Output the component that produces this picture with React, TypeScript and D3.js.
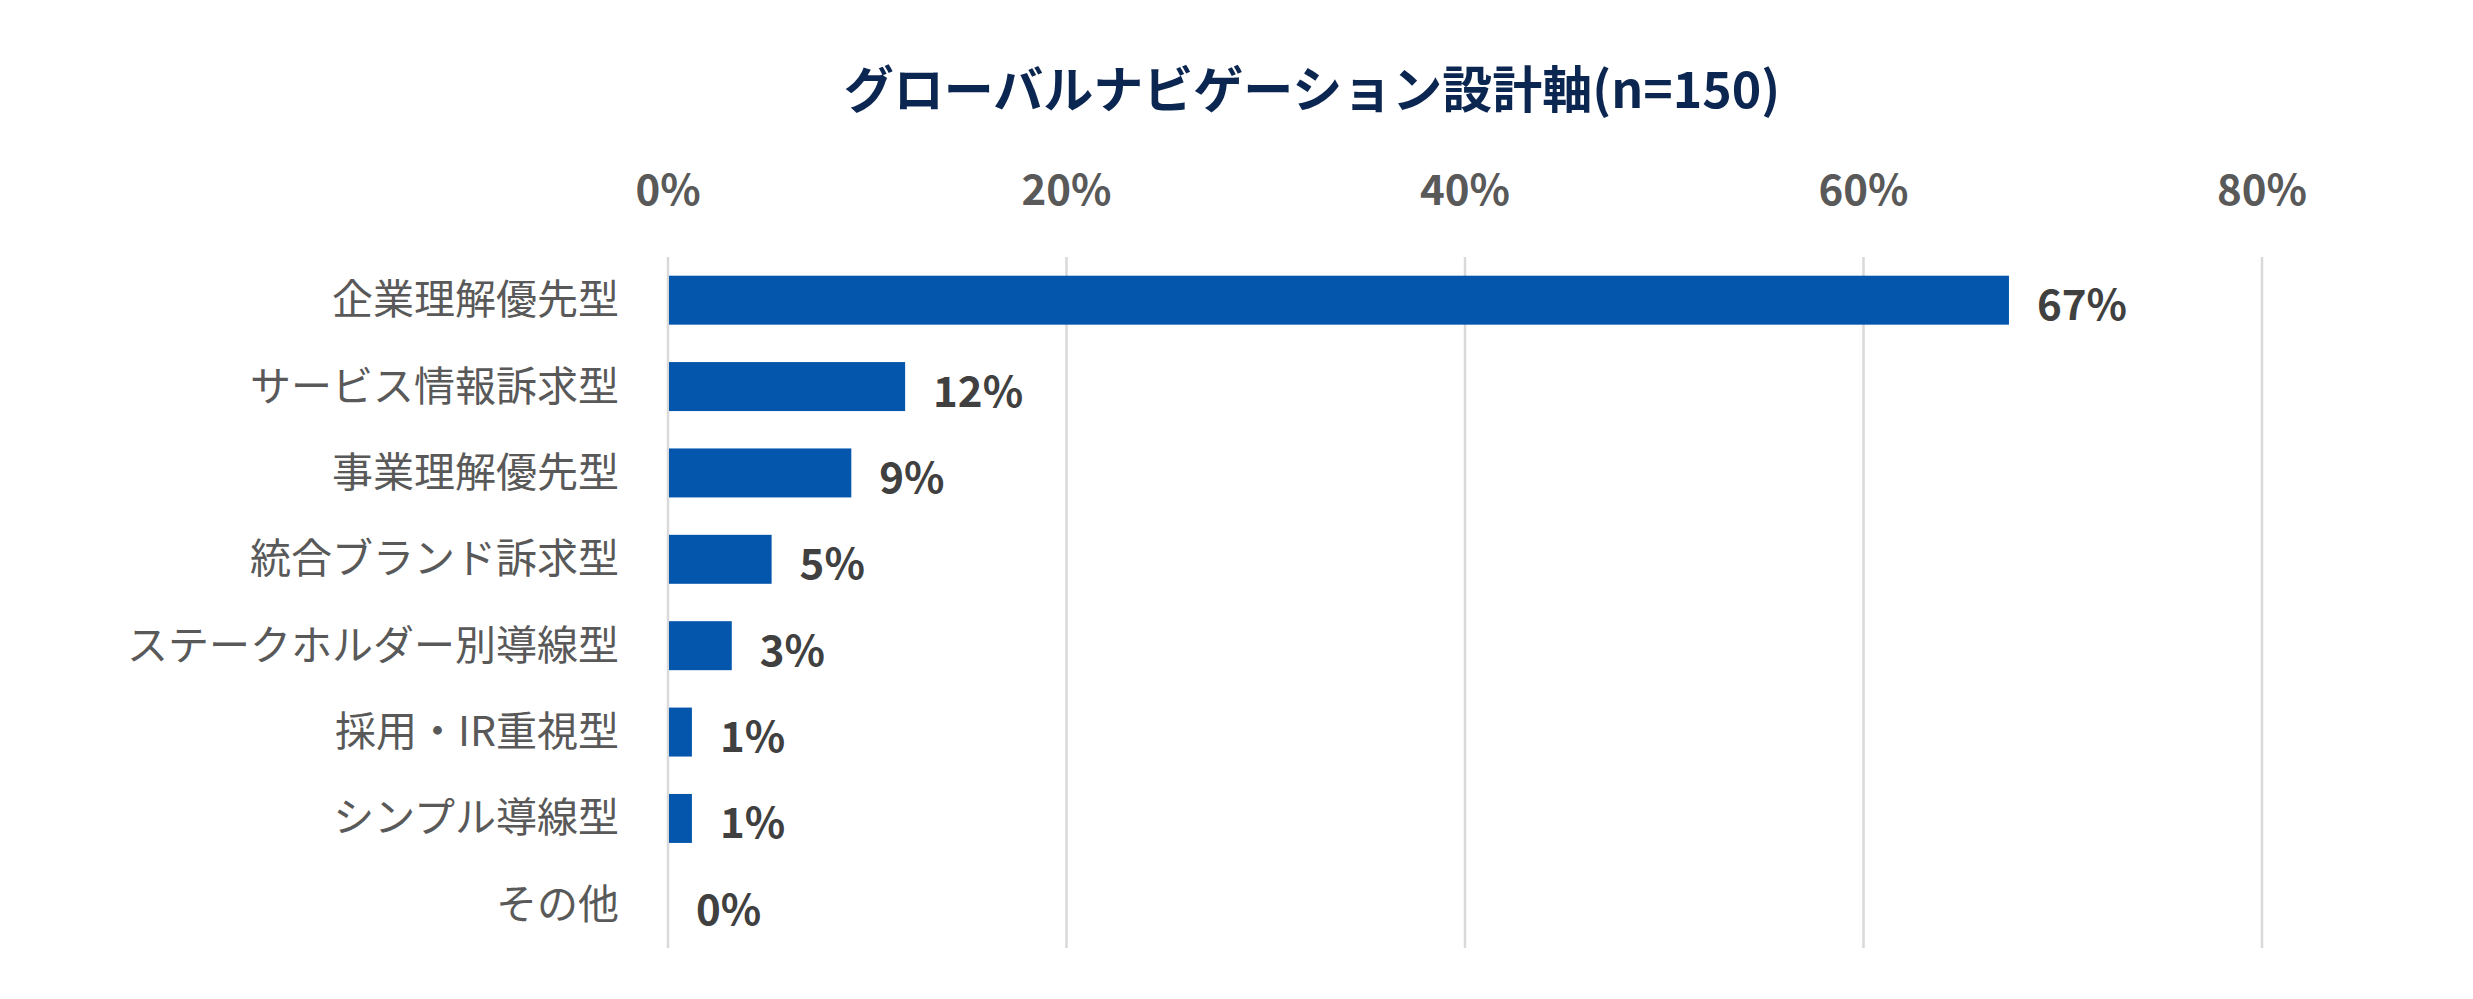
import { useEffect, useRef } from 'react';
import * as d3 from 'd3';

const categories = [
  '企業理解優先型',
  'サービス情報訴求型',
  '事業理解優先型',
  '統合ブランド訴求型',
  'ステークホルダー別導線型',
  '採用・IR重視型',
  'シンプル導線型',
  'その他',
];
const shares = [67.3, 11.9, 9.2, 5.2, 3.2, 1.2, 1.2, 0];
const xTicks = [0, 20, 40, 60, 80];
const chartTitle = 'グローバルナビゲーション設計軸(n=150)';

const FONT = '"Noto Sans CJK JP", "Noto Sans", sans-serif';

export default function App() {
  const svgRef = useRef<SVGSVGElement>(null);

  useEffect(() => {
    if (!svgRef.current) return;
    const width = 2473;
    const height = 999;
    const svg = d3.select(svgRef.current);
    svg.selectAll('*').remove();
    svg.attr('width', width).attr('height', height);

    const rows = categories.map((c, i) => ({ label: c, value: shares[i] }));

    const xScale = d3.scaleLinear().domain([0, 80]).range([668, 2262]);
    const yScale = d3.scaleBand<string>()
      .domain(categories)
      .range([257, 948])
      .paddingInner(0.433)
      .paddingOuter(0.2165);

    // Title
    svg.append('text')
      .attr('x', 1312)
      .attr('y', 108)
      .attr('text-anchor', 'middle')
      .attr('fill', '#0b2650')
      .attr('font-family', FONT)
      .attr('font-weight', 'bold')
      .attr('font-size', '50px')
      .text(chartTitle);

    // Grid lines
    svg.append('g')
      .selectAll('line')
      .data(xTicks)
      .enter()
      .append('line')
      .attr('x1', d => xScale(d))
      .attr('x2', d => xScale(d))
      .attr('y1', 257)
      .attr('y2', 948)
      .attr('stroke', '#d9d9d9')
      .attr('stroke-width', 2.5);

    // Top tick labels
    svg.append('g')
      .selectAll('text')
      .data(xTicks)
      .enter()
      .append('text')
      .attr('x', d => xScale(d))
      .attr('y', 205)
      .attr('text-anchor', 'middle')
      .attr('fill', '#595959')
      .attr('font-family', FONT)
      .attr('font-weight', 'bold')
      .attr('font-size', '42px')
      .text(d => `${d}%`);

    // Bars
    svg.append('g')
      .selectAll('rect')
      .data(rows)
      .enter()
      .append('rect')
      .attr('x', xScale(0) + 1)
      .attr('y', d => yScale(d.label)!)
      .attr('width', d => Math.max(0, xScale(d.value) - xScale(0) - 1))
      .attr('height', yScale.bandwidth())
      .attr('fill', '#0356ac');

    // Category labels
    svg.append('g')
      .selectAll('text')
      .data(rows)
      .enter()
      .append('text')
      .attr('x', 619)
      .attr('y', d => yScale(d.label)! + yScale.bandwidth() / 2 + 14)
      .attr('text-anchor', 'end')
      .attr('fill', '#595959')
      .attr('font-family', FONT)
      .attr('font-size', '41px')
      .text(d => d.label);

    // Value labels
    svg.append('g')
      .selectAll('text')
      .data(rows)
      .enter()
      .append('text')
      .attr('x', d => xScale(d.value) + 28)
      .attr('y', d => yScale(d.label)! + yScale.bandwidth() / 2 + 20)
      .attr('fill', '#404040')
      .attr('font-family', FONT)
      .attr('font-weight', 'bold')
      .attr('font-size', '42px')
      .text(d => `${Math.round(d.value)}%`);
  }, []);

  return (
    <div style={{ position: 'absolute', left: 0, top: 0, background: '#fff' }}>
      <svg ref={svgRef} style={{ display: 'block' }} />
    </div>
  );
}
